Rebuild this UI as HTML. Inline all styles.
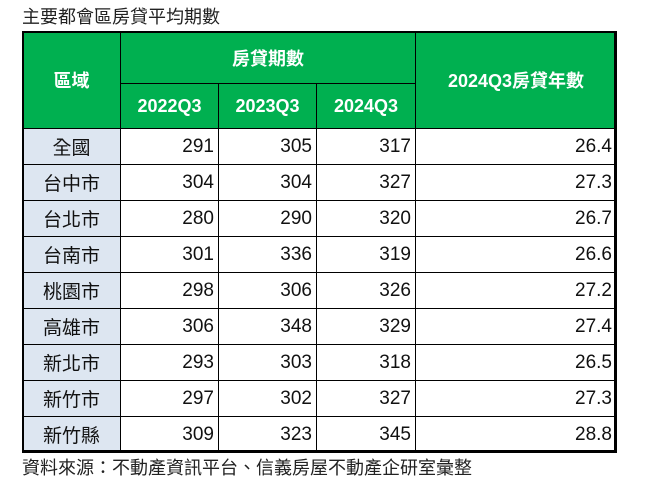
<!DOCTYPE html>
<html><head><meta charset="utf-8"><style>
body{margin:0;width:648px;height:483px;background:#fff;position:relative;overflow:hidden;font-family:"Liberation Sans","Noto Sans CJK TC",sans-serif;}
.t{position:absolute;font-size:18px;color:#222;white-space:nowrap;}
.c{position:absolute;box-sizing:border-box;border:1px solid #000;display:flex;align-items:center;font-size:19px;color:#111;}
.h{background:#00b050;color:#fff;font-weight:bold;justify-content:center;font-size:18px;}
.r{background:#fff;justify-content:flex-end;padding-right:4px;}
.l{background:#dde6f1;justify-content:center;}
#frame{position:absolute;left:22px;top:31px;width:594px;height:421px;border:2px solid #000;box-sizing:border-box;pointer-events:none;}
</style></head><body>
<div class="t" style="left:22px;top:3px;">主要都會區房貸平均期數</div>
<div id="tbl"></div>
<div id="frame"></div>
<div class="t" style="left:22px;top:454px;">資料來源：不動產資訊平台、信義房屋不動產企研室彙整</div>
<script>
const regions=["全國","台中市","台北市","台南市","桃園市","高雄市","新北市","新竹市","新竹縣"];
const q2022=[291,304,280,301,298,306,293,297,309];
const q2023=[305,304,290,336,306,348,303,302,323];
const q2024=[317,327,320,319,326,329,318,327,345];
const years2024=[26.4,27.3,26.7,26.6,27.2,27.4,26.5,27.3,28.8];
const periodLabels=["2022Q3","2023Q3","2024Q3"];
const colX=[22,120,218,316,415,616];
const tbl=document.getElementById('tbl');
function cell(x,y,w,h,cls,txt,name){
  const d=document.createElement('div');
  d.className='c '+cls;
  d.style.cssText=`left:${x}px;top:${y}px;width:${w+1}px;height:${h+1}px;border-width:1px;`;
  d.textContent=txt;
  
  
  tbl.appendChild(d);
}
cell(22,31,98,97,'h','區域','header-region');
cell(120,31,295,52,'h','房貸期數','header-loan-term');
cell(415,31,201,97,'h','2024Q3房貸年數','header-loan-years');
periodLabels.forEach((p,i)=>cell(colX[i+1],83,colX[i+2]-colX[i+1],45,'h',p,'header-'+p));
regions.forEach((r,i)=>{
  const y=128+i*36;
  cell(22,y,98,36,'l',r,'region-'+i);
  cell(120,y,98,36,'r',q2022[i],'value-2022-'+i);
  cell(218,y,98,36,'r',q2023[i],'value-2023-'+i);
  cell(316,y,99,36,'r',q2024[i],'value-2024-'+i);
  cell(415,y,201,36,'r',years2024[i].toFixed(1),'years-2024-'+i);
});
document.querySelectorAll('.c').forEach(e=>{e.style.borderWidth='1.5px';});
</script>
</body></html>
